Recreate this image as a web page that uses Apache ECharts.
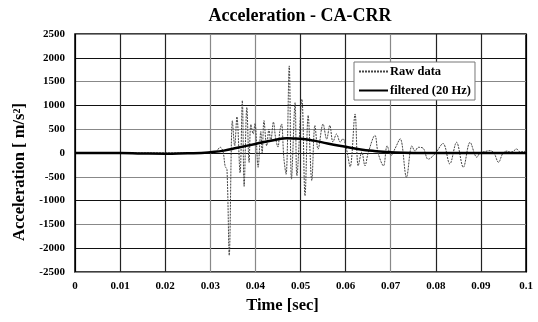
<!DOCTYPE html>
<html>
<head>
<meta charset="utf-8">
<script src="https://cdn.jsdelivr.net/npm/echarts@6/dist/echarts.min.js"></script>
<style>
  html, body { margin: 0; padding: 0; background: #fff; }
  #chart { width: 538px; height: 322px; }
</style>
</head>
<body>
<div id="chart"></div>
<script>
// raw signal
const rawTime = [0, 0.030, 0.0312, 0.0322, 0.0328, 0.0333, 0.0337, 0.0342, 0.0349, 0.0354, 0.0359, 0.0366,
  0.0371, 0.0375, 0.0381, 0.0386, 0.0390, 0.0395, 0.0399, 0.0406, 0.0412, 0.0415, 0.0419, 0.0425,
  0.0430, 0.0434, 0.0440, 0.0445, 0.0450, 0.0454, 0.0458, 0.0463, 0.0468, 0.0475, 0.0480, 0.0488,
  0.0492, 0.0503, 0.0510, 0.0517, 0.0525, 0.0532, 0.0539, 0.0550, 0.0558, 0.0565, 0.0572, 0.0580,
  0.0588, 0.0594, 0.0602, 0.0610, 0.0621, 0.0628, 0.0636, 0.0643, 0.0650, 0.0665, 0.0672, 0.0684,
  0.0692, 0.0701, 0.0710, 0.0721, 0.0735, 0.0747, 0.0754, 0.0761, 0.0772, 0.0783, 0.0798, 0.0816,
  0.0831, 0.0846, 0.0861, 0.0876, 0.0891, 0.0898, 0.0909, 0.0920, 0.0929, 0.0939, 0.0949, 0.0958,
  0.0965, 0.0971, 0.0979, 0.0987, 0.1];
const rawAcc = [0, 0, 20, 120, 40, -280, -350, -2150, 680, 150, 760, -420,
  1100, -700, 960, -200, 600, 400, 620, -300, 450, 0, 680, 150,
  500, 250, 650, 300, 125, 450, 610, -100, -450, 1830, -550, 1060,
  -480, 1130, -900, 790, -580, 580, 80, 610, 290, 580, 230, 400,
  230, 300, 80, -290, 820, -270, 20, -270, 0, 370, 0, -270,
  150, -50, 100, 300, -510, 150, 40, 120, 100, -130, -20, 200,
  -230, 225, -300, 225, -90, 0, 30, 50, 0, -195, 0, 40,
  20, 30, 85, 20, 40];

// filtered (20 Hz)
const filtTime = [0, 0.010, 0.015, 0.020, 0.025, 0.028, 0.030, 0.033, 0.036, 0.040, 0.044, 0.047,
  0.050, 0.053, 0.056, 0.060, 0.063, 0.066, 0.070, 0.075, 0.080, 0.090, 0.1];
const filtAcc = [0, 0, -10, -15, -5, 0, 15, 50, 110, 190, 270, 310,
  300, 260, 200, 130, 80, 45, 15, 0, 0, 0, 0];

const seriesNames = ['Raw data', 'filtered (20 Hz)'];

const pair = (ts, vs) => ts.map((t, i) => [t, vs[i]]);

const serif = '"Liberation Serif", "Times New Roman", serif';
const xGridColors = ['#000', '#222', '#222', '#888', '#888', '#222', '#222', '#888', '#222', '#222', '#000'];

const chart = echarts.init(document.getElementById('chart'));
chart.setOption({
  backgroundColor: '#fff',
  animation: false,
  title: {
    text: 'Acceleration - CA-CRR',
    left: 295,
    top: 2,
    textAlign: 'center',
    textStyle: { fontFamily: serif, fontSize: 18, fontWeight: 'bold', color: '#000' }
  },
  legend: {
    data: seriesNames,
    orient: 'vertical',
    left: 354,
    top: 62,
    itemWidth: 29,
    itemHeight: 14,
    itemGap: 6,
    padding: [3, 4, 3, 4],
    borderColor: '#777',
    borderWidth: 1,
    backgroundColor: '#fff',
    itemStyle: { color: 'rgba(0,0,0,0)', borderWidth: 0 },
    textStyle: { fontFamily: serif, fontSize: 12.5, fontWeight: 'bold', color: '#000', padding: [0, 0, 0, -3] }
  },
  grid: {
    left: 75, right: 12, top: 34, bottom: 50,
    show: true, borderColor: '#000', borderWidth: 1.5, backgroundColor: '#fff'
  },
  xAxis: {
    type: 'value',
    min: 0, max: 0.1, interval: 0.01,
    name: 'Time [sec]',
    nameLocation: 'middle',
    nameGap: 25,
    nameTextStyle: { fontFamily: serif, fontSize: 16.5, fontWeight: 'bold', color: '#000', padding: [0, 36, 0, 0] },
    axisLine: { show: false },
    axisTick: { show: false },
    axisLabel: {
      fontFamily: serif, fontSize: 11, fontWeight: 'bold', color: '#000', margin: 9,
      formatter: v => String(+v.toFixed(2))
    },
    splitLine: { show: true, lineStyle: { color: xGridColors, width: 1.2 } }
  },
  yAxis: {
    type: 'value',
    min: -2500, max: 2500, interval: 500,
    name: 'Acceleration [ m/s²]',
    nameLocation: 'middle',
    nameGap: 39,
    nameTextStyle: { fontFamily: serif, fontSize: 16.5, fontWeight: 'bold', color: '#000', padding: [0, 38, 0, 0] },
    axisLine: { show: false },
    axisTick: { show: false },
    axisLabel: {
      fontFamily: serif, fontSize: 11, fontWeight: 'bold', color: '#000', margin: 10,
      formatter: v => String(v)
    },
    splitLine: { show: true, lineStyle: { color: ['#888', '#111'], width: 1.2 } }
  },
  series: [
    {
      name: seriesNames[0],
      type: 'line',
      data: pair(rawTime, rawAcc),
      symbol: 'none',
      smooth: 0.35,
      z: 3,
      color: '#444',
      lineStyle: { color: '#444', width: 1, type: [2, 1] }
    },
    {
      name: seriesNames[1],
      type: 'line',
      data: pair(filtTime, filtAcc),
      symbol: 'none',
      smooth: true,
      z: 4,
      color: '#000',
      lineStyle: { color: '#000', width: 2.5 }
    }
  ]
});
</script>
</body>
</html>
